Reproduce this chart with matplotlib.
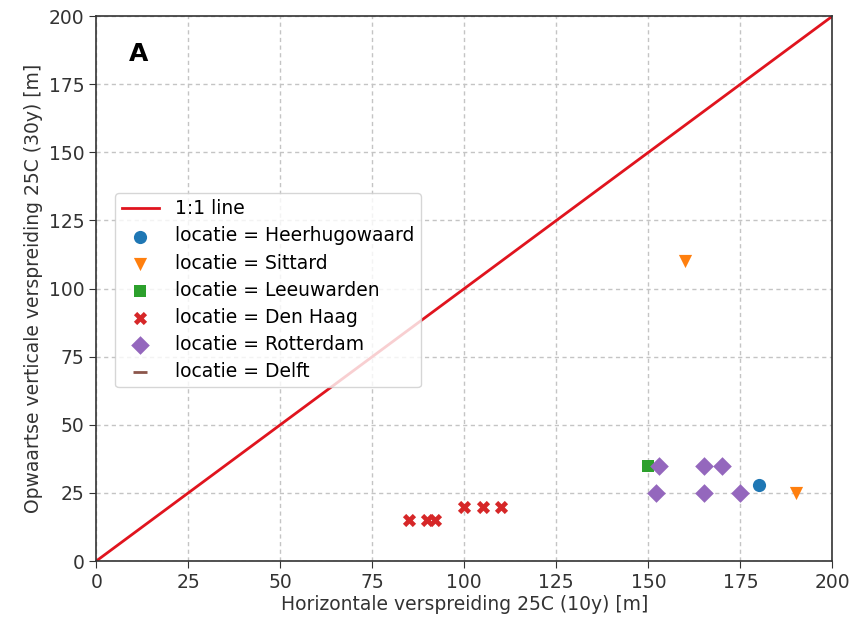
import matplotlib
matplotlib.use("Agg")
import matplotlib.pyplot as plt

# data
locaties = ["Heerhugowaard", "Sittard", "Leeuwarden", "Den Haag", "Rotterdam", "Delft"]
heerhugowaard_x = [180]
heerhugowaard_y = [28]
sittard_x = [160, 190]
sittard_y = [110, 25]
leeuwarden_x = [150]
leeuwarden_y = [35]
denhaag_x = [85, 90, 92, 100, 105, 110]
denhaag_y = [15, 15, 15, 20, 20, 20]
rotterdam_x = [153, 165, 170, 152, 165, 175]
rotterdam_y = [35, 35, 35, 25, 25, 25]
delft_x = []
delft_y = []

lijn = [0, 200]

xs = [heerhugowaard_x, sittard_x, leeuwarden_x, denhaag_x, rotterdam_x, delft_x]
ys = [heerhugowaard_y, sittard_y, leeuwarden_y, denhaag_y, rotterdam_y, delft_y]
kleuren = ["#1f77b4", "#ff7f0e", "#2ca02c", "#d62728", "#9467bd", "#8c564b"]
markers = ["o", "v", "s", "X", "D", "_"]
maten = [90, 90, 80, 90, 90, 90]

plt.rcParams['font.family'] = ['DejaVu Sans']
fig = plt.figure(figsize=(8.59, 6.22), dpi=100)
ax = fig.add_axes([0.112, 0.098, 0.857, 0.876])

ax.plot(lijn, lijn, color="#e0141e", lw=2, label="1:1 line", zorder=2)
for i in range(len(locaties)):
    ax.scatter(xs[i], ys[i], c=kleuren[i], marker=markers[i], s=maten[i],
               linewidths=0 if markers[i] != "_" else 2,
               label="locatie = " + locaties[i], zorder=3)

ax.set_xlim(0, 200)
ax.set_ylim(0, 200)
ax.set_xticks(range(0, 201, 25))
ax.set_yticks(range(0, 201, 25))
ax.grid(True, ls=(0, (3, 2.5)), color="#c4c4c4", lw=1)
ax.set_axisbelow(True)
ax.tick_params(labelsize=13.5, color="#333333", labelcolor="#333333", length=5)
for sp in ax.spines.values():
    sp.set_color("#333333")
    sp.set_linewidth(1.2)
ax.set_xlabel("Horizontale verspreiding 25C (10y) [m]", fontsize=13.5, color="#333333", labelpad=2)
ax.set_ylabel("Opwaartse verticale verspreiding 25C (30y) [m]", fontsize=13.5, color="#333333", labelpad=4)
ax.text(0.045, 0.93, "A", transform=ax.transAxes, fontsize=18, fontweight="bold",
        va="center")

ax.legend(loc="upper left", bbox_to_anchor=(0.013, 0.693), fontsize=13.5,
          frameon=True, edgecolor="#cccccc", borderpad=0.35, handletextpad=0.85,
          labelspacing=0.43)

fig.savefig("out.png", dpi=100)
